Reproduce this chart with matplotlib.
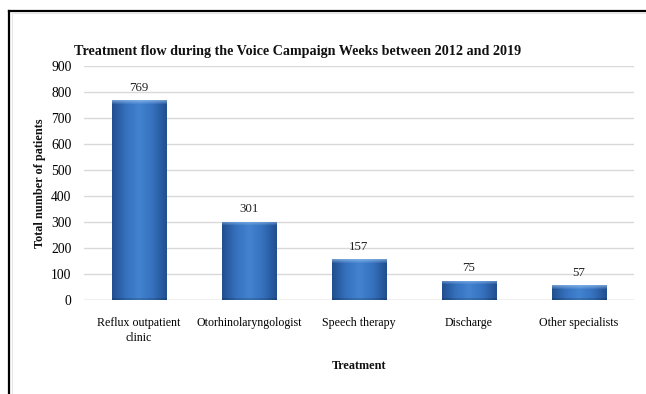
import numpy as np
import matplotlib
matplotlib.use("Agg")
import matplotlib.pyplot as plt
from matplotlib.lines import Line2D
from matplotlib.colors import LinearSegmentedColormap

categories = ["Reflux outpatient\nclinic", "Otorhinolaryngologist", "Speech therapy",
              "Discharge", "Other specialists"]
values = [769, 301, 157, 75, 57]
yticks = [0, 100, 200, 300, 400, 500, 600, 700, 800, 900]
title = "Treatment flow during the Voice Campaign Weeks between 2012 and 2019"
ylabel = "Total number of patients"
xlabel = "Treatment"

plt.rcParams['font.family'] = ['Liberation Serif', 'DejaVu Serif']

W, H = 646, 394
fig = plt.figure(figsize=(W / 100, H / 100), dpi=100)
fig.patch.set_facecolor("white")

ax = fig.add_axes([84 / W, 1 - 300 / H, (634 - 84) / W, (300 - 66) / H])
x = np.arange(len(categories))
bars = ax.bar(x, values, width=0.5, color="#3a73c0", zorder=2)
ax.set_xlim(-0.5, len(categories) - 0.5)
ax.set_ylim(0, 900)
ax.set_yticks(yticks)
ax.set_xticks(x)
ax.set_xticklabels(categories, fontsize=8.6, linespacing=1.35)
ax.tick_params(axis="x", length=0, pad=12)
ax.tick_params(axis="y", length=0, pad=9, labelsize=9.8)
for s in ax.spines.values():
    s.set_visible(False)
ax.grid(axis="y", color="#d9d9d9", linewidth=1.0, zorder=0)
ax.set_axisbelow(True)
ax.axhline(0, color="#d0d0d0", linewidth=1.0, zorder=1)

# gradient fill for bars (dark edges, lighter centre, lighter top bevel)
cmap = LinearSegmentedColormap.from_list(
    "barblue", ["#214f90", "#3671be", "#4283d0", "#3671be", "#214f90"])
ncols = 60
prof = np.linspace(0, 1, ncols)
fig.canvas.draw()
for rect in bars:
    bx, bw, bh = rect.get_x(), rect.get_width(), rect.get_height()
    p0 = ax.transData.transform((bx, 0))
    p1 = ax.transData.transform((bx, bh))
    hpx = max(int(round(p1[1] - p0[1])), 4)
    rgba = np.tile(cmap(prof)[None, :, :], (hpx, 1, 1))
    bev = min(4, hpx // 3)
    for r in range(bev):
        f = 0.6 * (1 - r / bev)
        rgba[r, :, :3] = rgba[r, :, :3] * (1 - f) + np.array([0.62, 0.78, 0.95]) * f
    for r in range(1, 3):
        rgba[-r, :, :3] *= 0.85
    im = ax.imshow(rgba, extent=[bx, bx + bw, 0, bh], aspect="auto",
                   zorder=3, interpolation="bilinear")
    im.set_clip_path(rect)
    ax.text(bx + bw / 2, bh + 24, f"{int(bh)}", ha="center", va="bottom",
            fontsize=9.3, color="#222222", zorder=4)
ax.set_ylim(0, 900)
ax.set_xlim(-0.5, len(categories) - 0.5)

fig.text(298 / W, 1 - 52 / H, title, ha="center", va="center",
         fontsize=10.2, fontweight="bold", color="#111111")
fig.text(40 / W, 1 - 183 / H, ylabel, ha="center", va="center",
         rotation=90, fontsize=8.8, fontweight="bold", color="#111111")
fig.text(359 / W, 1 - 366 / H, xlabel, ha="center", va="center",
         fontsize=8.8, fontweight="bold", color="#111111")

# outer border (top and left)
fig.add_artist(Line2D([8.5 / W, 1], [1 - 10.5 / H, 1 - 10.5 / H],
                      transform=fig.transFigure, color="black", linewidth=1.6))
fig.add_artist(Line2D([8.5 / W, 8.5 / W], [0, 1 - 10.5 / H],
                      transform=fig.transFigure, color="black", linewidth=1.6))
fig.add_artist(Line2D([11.5 / W, 1], [1 - 13 / H, 1 - 13 / H],
                      transform=fig.transFigure, color="#e6e6e6", linewidth=0.8))
fig.add_artist(Line2D([11.5 / W, 11.5 / W], [0, 1 - 13 / H],
                      transform=fig.transFigure, color="#e6e6e6", linewidth=0.8))

fig.savefig("out.png", dpi=100, facecolor="white")
